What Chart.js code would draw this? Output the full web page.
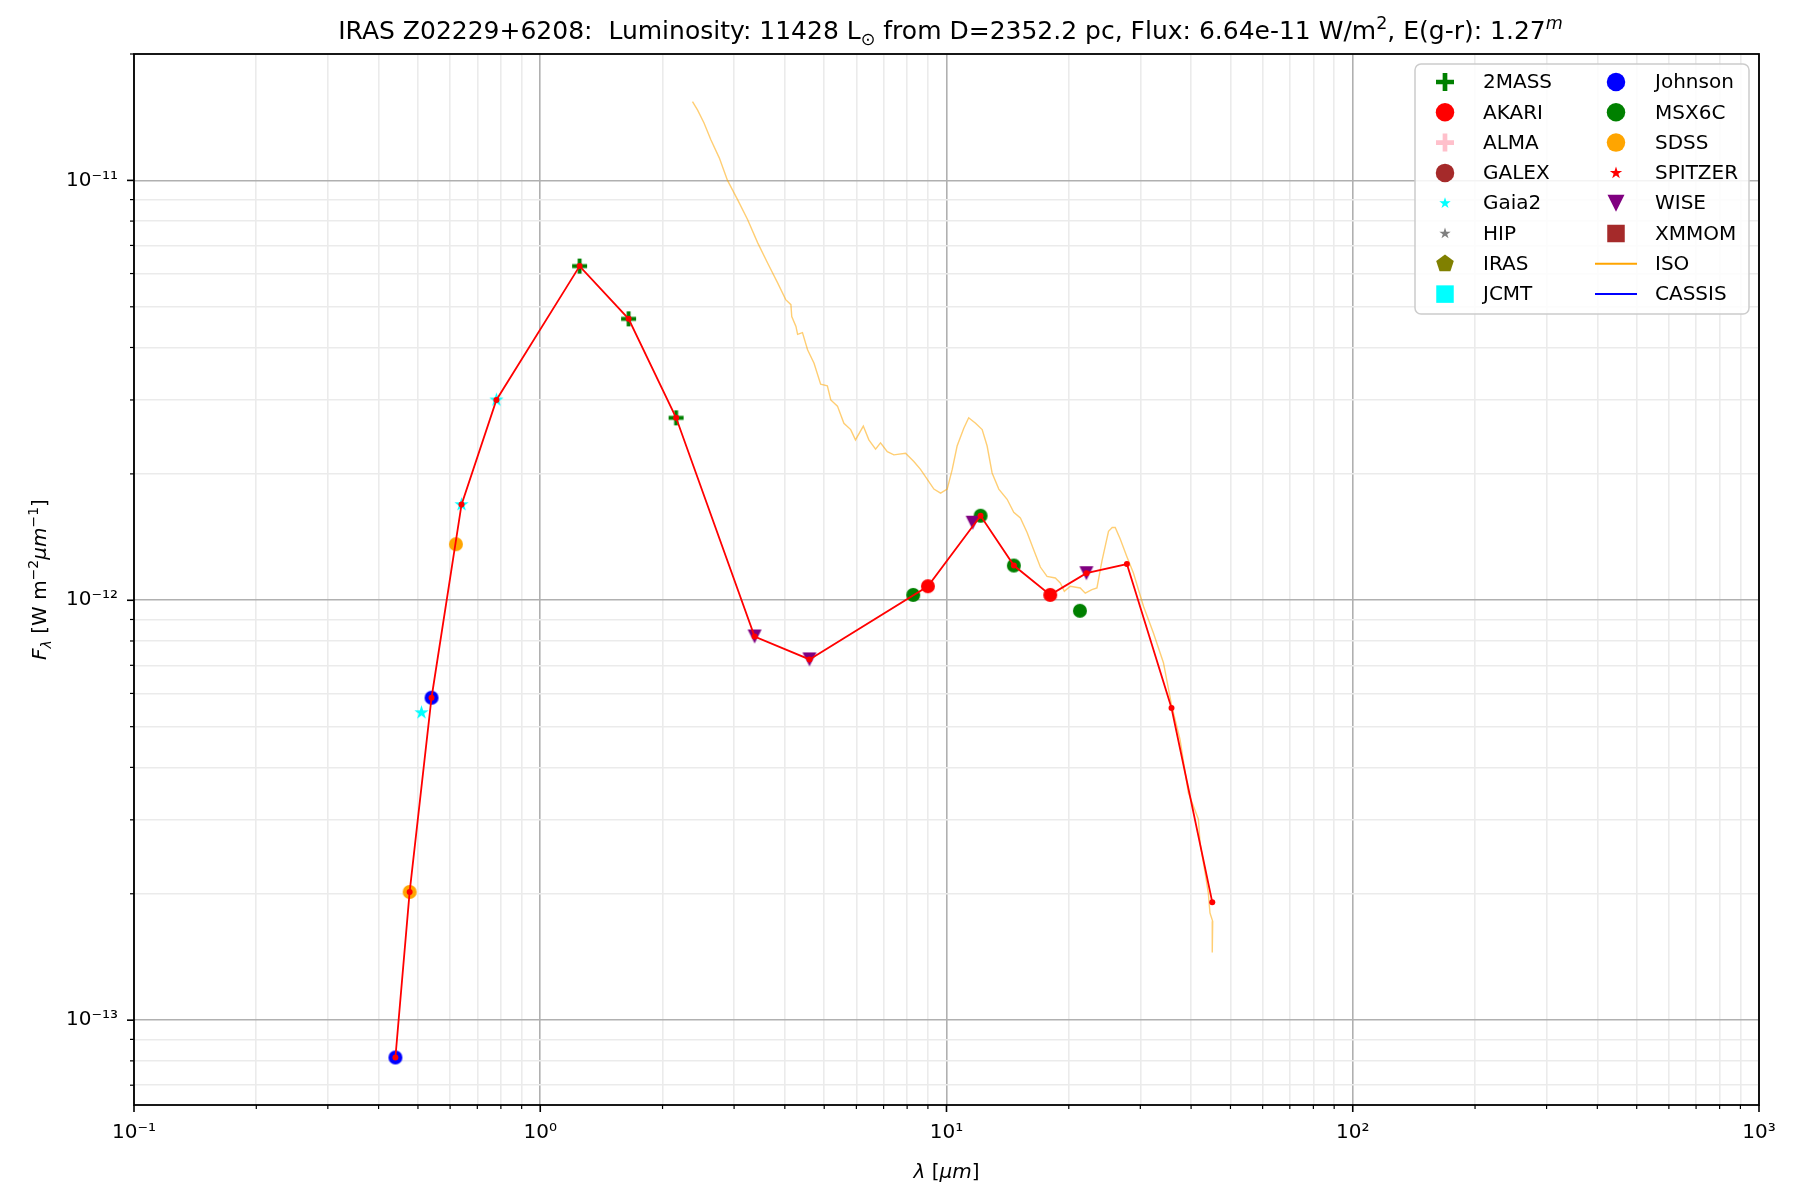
<!DOCTYPE html>
<html>
<head>
<meta charset="utf-8">
<title>IRAS Z02229+6208 SED</title>
<script src="https://cdn.jsdelivr.net/npm/chart.js@4.4.1/dist/chart.umd.min.js"></script>
<style>
html, body { margin:0; padding:0; background:#fff; }
#wrap { width:1800px; height:1200px; }
</style>
</head>
<body>
<div id="wrap"><canvas id="sedChart" width="1800" height="1200"></canvas></div>
<script>
// photometry: wavelength in micron, flux in W m^-2 micron^-1
const twoMassWave = [1.25, 1.65, 2.16]
const twoMassFlux = [6.25e-12, 4.68e-12, 2.72e-12]

const akariWave = [9.0, 18.0]
const akariFlux = [1.08e-12, 1.03e-12]

const gaiaWave = [0.51, 0.64, 0.78]
const gaiaFlux = [5.4e-13, 1.69e-12, 3.0e-12]

const johnsonWave = [0.44, 0.54]
const johnsonFlux = [8.15e-14, 5.86e-13]

const msxWave = [8.28, 12.13, 14.65, 21.3]
const msxFlux = [1.03e-12, 1.59e-12, 1.21e-12, 9.44e-13]

const sdssWave = [0.477, 0.62]
const sdssFlux = [2.02e-13, 1.36e-12]

const wiseWave = [3.37, 4.6, 11.6, 22.1]
const wiseFlux = [8.2e-13, 7.23e-13, 1.53e-12, 1.16e-12]

// red line through the adopted photometry
const sedWave = [0.44, 0.477, 0.54, 0.64, 0.78, 1.25, 1.65, 2.16, 3.37, 4.6, 9.0, 12.13, 14.65, 18.0, 22.1, 27.8, 35.8, 45.1]
const sedFlux = [8.15e-14, 2.02e-13, 5.86e-13, 1.69e-12, 3.0e-12, 6.25e-12, 4.68e-12, 2.72e-12, 8.2e-13, 7.23e-13, 1.08e-12, 1.59e-12, 1.21e-12, 1.03e-12, 1.16e-12, 1.22e-12, 5.54e-13, 1.91e-13]

// ISO spectrum, traced by eye
const isoWave = [2.37, 2.44, 2.53, 2.63, 2.76, 2.89, 3.06, 3.24, 3.43, 3.63, 3.84, 4.02, 4.14, 4.16, 4.26, 4.30, 4.42, 4.55, 4.72, 4.90,
  5.09, 5.19, 5.39, 5.59, 5.81, 5.97, 6.24, 6.44, 6.69, 6.88, 7.15, 7.42, 7.93, 8.31, 8.63, 8.97, 9.31, 9.67, 10.04, 10.33,
  10.62, 11.03, 11.34, 11.79, 12.24, 12.59, 12.95, 13.45, 14.10, 14.64, 15.20, 15.79, 16.39, 17.02, 17.68, 18.53, 19.06, 19.50, 20.17, 21.34,
  21.96, 22.80, 23.46, 24.13, 25.05, 25.58, 26.02, 26.77, 27.80, 28.86, 30.54, 32.31, 34.20, 35.85, 37.58, 39.38, 41.69, 42.09, 43.29, 44.10,
  44.52, 45.21, 45.10]
const isoFlux = [1.54e-11, 1.47e-11, 1.37e-11, 1.25e-11, 1.13e-11, 1.00e-11, 9.0e-12, 8.06e-12, 7.1e-12, 6.35e-12, 5.7e-12, 5.2e-12, 5.06e-12, 4.74e-12, 4.49e-12, 4.3e-12, 4.34e-12, 3.95e-12, 3.67e-12, 3.27e-12,
  3.24e-12, 3.0e-12, 2.9e-12, 2.64e-12, 2.55e-12, 2.41e-12, 2.6e-12, 2.41e-12, 2.29e-12, 2.37e-12, 2.26e-12, 2.22e-12, 2.24e-12, 2.14e-12, 2.05e-12, 1.94e-12, 1.84e-12, 1.80e-12, 1.84e-12, 2.05e-12,
  2.33e-12, 2.57e-12, 2.72e-12, 2.64e-12, 2.55e-12, 2.33e-12, 2.01e-12, 1.84e-12, 1.74e-12, 1.62e-12, 1.57e-12, 1.45e-12, 1.32e-12, 1.20e-12, 1.14e-12, 1.13e-12, 1.10e-12, 1.05e-12, 1.08e-12, 1.07e-12,
  1.04e-12, 1.06e-12, 1.07e-12, 1.24e-12, 1.46e-12, 1.49e-12, 1.49e-12, 1.40e-12, 1.27e-12, 1.16e-12, 9.68e-13, 8.36e-13, 7.10e-13, 5.6e-13, 4.66e-13, 3.48e-13, 3.01e-13, 2.64e-13, 2.25e-13, 2.01e-13,
  1.80e-13, 1.72e-13, 1.45e-13]

const legendLeft = ['2MASS', 'AKARI', 'ALMA', 'GALEX', 'Gaia2', 'HIP', 'IRAS', 'JCMT']
const legendRight = ['Johnson', 'MSX6C', 'SDSS', 'SPITZER', 'WISE', 'XMMOM', 'ISO', 'CASSIS']

const xRange = [0.1, 1000]
const yRange = [6.28e-14, 2.0e-11]

const look = {
  '2MASS': { shape:'plus', color:'#008000', size:15, key:18 },
  'AKARI': { shape:'circle', color:'#ff0000', size:14, key:18.5 },
  'ALMA': { shape:'plus', color:'#ffc0cb', size:15, key:18 },
  'GALEX': { shape:'circle', color:'#a52a2a', size:14, key:18.5 },
  'Gaia2': { shape:'star', color:'#00ffff', size:15, key:12 },
  'HIP': { shape:'star', color:'#808080', size:15, key:12 },
  'IRAS': { shape:'pentagon', color:'#808000', size:14, key:18.5 },
  'JCMT': { shape:'square', color:'#00ffff', size:13, key:17.5 },
  'Johnson': { shape:'circle', color:'#0000ff', size:14, key:18.5 },
  'MSX6C': { shape:'circle', color:'#008000', size:14, key:18.5 },
  'SDSS': { shape:'circle', color:'#ffa500', size:14, key:18.5 },
  'SPITZER': { shape:'star', color:'#ff0000', size:15, key:13 },
  'WISE': { shape:'tri', color:'#800080', size:14, key:17 },
  'XMMOM': { shape:'square', color:'#a52a2a', size:13, key:17.5 },
  'ISO': { shape:'line', color:'#ffa500' },
  'CASSIS': { shape:'line', color:'#0000ff' }
}

const FONT = 'DejaVu Sans'
const FS = 20
const TITLE_FS = 25

function toPoints(wave, flux){
  return wave.map((w, i) => ({ x:w, y:flux[i] }))
}

function drawShape(g, shape, x, y, size){
  const r = size / 2
  g.beginPath()
  if (shape === 'circle'){
    g.arc(x, y, r, 0, Math.PI * 2)
    g.fill()
  } else if (shape === 'square'){
    g.fillRect(x - r, y - r, size, size)
  } else if (shape === 'plus'){
    g.lineWidth = size * 0.26
    g.moveTo(x - r, y)
    g.lineTo(x + r, y)
    g.moveTo(x, y - r)
    g.lineTo(x, y + r)
    g.stroke()
  } else if (shape === 'star'){
    for (let k = 0; k < 10; k++){
      const rr = k % 2 === 0 ? r : r * 0.382
      const a = -Math.PI / 2 + k * Math.PI / 5
      g.lineTo(x + rr * Math.cos(a), y + rr * Math.sin(a))
    }
    g.closePath()
    g.fill()
  } else if (shape === 'pentagon'){
    for (let k = 0; k < 5; k++){
      const a = -Math.PI / 2 + k * 2 * Math.PI / 5
      g.lineTo(x + r * Math.cos(a), y + r * Math.sin(a))
    }
    g.closePath()
    g.fill()
  } else if (shape === 'tri'){
    g.moveTo(x - r, y - r)
    g.lineTo(x + r, y - r)
    g.lineTo(x, y + r)
    g.closePath()
    g.fill()
  }
}

function markerImage(name){
  const s = look[name]
  const c = document.createElement('canvas')
  c.width = c.height = Math.ceil(s.size + 6)
  const g = c.getContext('2d')
  g.fillStyle = s.color
  g.strokeStyle = s.color
  drawShape(g, s.shape, c.width / 2, c.height / 2, s.size)
  return c
}

function photSet(name, wave, flux, order){
  return {
    label: name,
    data: toPoints(wave, flux),
    pointStyle: markerImage(name),
    pointRadius: look[name].size / 2,
    pointHoverRadius: look[name].size / 2,
    showLine: false,
    order: order
  }
}

function isMajor(v){
  const e = Math.round(Math.log10(v))
  return Math.abs(v / Math.pow(10, e) - 1) < 1e-6
}

const supDigits = { '-':'⁻', '0':'⁰', '1':'¹', '2':'²', '3':'³', '4':'⁴', '5':'⁵', '6':'⁶', '7':'⁷', '8':'⁸', '9':'⁹' }

function powerLabel(v){
  if (!isMajor(v)) return ''
  const e = String(Math.round(Math.log10(v)))
  return '10' + e.split('').map(ch => supDigits[ch]).join('')
}

// ticks at 1..9 x 10^n inside the axis range
function fillDecades(scale){
  const lo = scale.min, hi = scale.max
  const out = []
  for (let e = Math.floor(Math.log10(lo)); e <= Math.ceil(Math.log10(hi)); e++){
    for (let m = 1; m < 10; m++){
      const v = m * Math.pow(10, e)
      if (v >= lo * 0.999999 && v <= hi * 1.000001) out.push({ value:v })
    }
  }
  scale.ticks = out
}

function gridColor(ctx){
  return ctx.tick && isMajor(ctx.tick.value) ? '#b0b0b0' : '#ebebeb'
}

// text made of plain, italic, sub and sup parts
function drawRich(g, parts, cx, cy, size, vertical){
  const fontFor = p => (p[1].indexOf('i') >= 0 ? 'italic ' : '') +
    ((p[1].indexOf('sub') === 0 || p[1].indexOf('sup') === 0) ? size * 0.7 : size) + 'px "' + FONT + '"'
  let total = 0
  parts.forEach(p => { g.font = fontFor(p); total += g.measureText(p[0]).width })
  g.save()
  g.translate(cx, cy)
  if (vertical) g.rotate(-Math.PI / 2)
  g.fillStyle = '#000'
  g.textBaseline = 'alphabetic'
  g.textAlign = 'left'
  let x = -total / 2
  const base = size * 0.36
  parts.forEach(p => {
    g.font = fontFor(p)
    let dy = 0
    if (p[1].indexOf('sub') === 0) dy = size * 0.22
    if (p[1].indexOf('sup') === 0) dy = -size * 0.42
    g.fillText(p[0], x, base + dy)
    x += g.measureText(p[0]).width
  })
  g.restore()
}

const titleParts = [
  ['IRAS Z02229+6208:  Luminosity: 11428 L', 'n'], ['⊙', 'sub'],
  [' from D=2352.2 pc, Flux: 6.64e-11 W/m', 'n'], ['2', 'sup'],
  [', E(g-r): 1.27', 'n'], ['m', 'supi']
]
const xTitleParts = [['λ', 'i'], [' [', 'n'], ['μm', 'i'], [']', 'n']]
const yTitleParts = [['F', 'i'], ['λ', 'subi'], [' [W m', 'n'], ['−2', 'sup'], ['μm', 'i'], ['−1', 'sup'], [']', 'n']]

function drawLegend(g){
  const box = { x:1415, y:64, w:334, h:250 }
  g.save()
  g.fillStyle = 'rgba(255,255,255,0.85)'
  g.strokeStyle = '#cccccc'
  g.lineWidth = 1.5
  g.beginPath()
  g.roundRect(box.x, box.y, box.w, box.h, 6)
  g.fill()
  g.stroke()
  g.font = FS + 'px "' + FONT + '"'
  g.textBaseline = 'middle'
  g.textAlign = 'left'
  const cols = [{ names:legendLeft, mx:1445, tx:1483 }, { names:legendRight, mx:1616, tx:1655 }]
  cols.forEach(col => {
    col.names.forEach((name, i) => {
      const y = 82 + i * 30.3
      const s = look[name]
      g.fillStyle = s.color
      g.strokeStyle = s.color
      if (s.shape === 'line'){
        g.lineWidth = 2
        g.beginPath()
        g.moveTo(col.mx - 21, y)
        g.lineTo(col.mx + 21, y)
        g.stroke()
      } else {
        drawShape(g, s.shape, col.mx, y, s.key)
      }
      g.fillStyle = '#000'
      g.fillText(name, col.tx, y + 1)
    })
  })
  g.restore()
}

const decor = {
  id: 'decor',
  afterDraw(chart){
    const g = chart.ctx
    const a = chart.chartArea
    const sx = chart.scales.x
    const sy = chart.scales.y
    g.save()
    g.strokeStyle = '#000'
    sx.ticks.forEach(t => {
      const p = sx.getPixelForValue(t.value)
      const big = isMajor(t.value)
      g.lineWidth = big ? 1.6 : 1.2
      g.beginPath()
      g.moveTo(p, a.bottom)
      g.lineTo(p, a.bottom + (big ? 7 : 4))
      g.stroke()
    })
    sy.ticks.forEach(t => {
      const p = sy.getPixelForValue(t.value)
      const big = isMajor(t.value)
      g.lineWidth = big ? 1.6 : 1.2
      g.beginPath()
      g.moveTo(a.left, p)
      g.lineTo(a.left - (big ? 7 : 4), p)
      g.stroke()
    })
    g.lineWidth = 1.8
    g.strokeRect(a.left, a.top, a.right - a.left, a.bottom - a.top)
    g.restore()

    drawLegend(g)
    drawRich(g, titleParts, (a.left + a.right) / 2 + 4, 30, TITLE_FS, false)
    drawRich(g, xTitleParts, (a.left + a.right) / 2, 1171, FS, false)
    drawRich(g, yTitleParts, 39, (a.top + a.bottom) / 2, FS, true)
  }
}

const datasets = [
  {
    label: 'sed',
    data: toPoints(sedWave, sedFlux),
    showLine: true,
    borderColor: '#ff0000',
    borderWidth: 1.8,
    pointStyle: 'circle',
    pointRadius: 3,
    pointHoverRadius: 3,
    pointBackgroundColor: '#ff0000',
    pointBorderWidth: 0,
    order: 0
  },
  {
    label: 'ISO',
    data: toPoints(isoWave, isoFlux),
    showLine: true,
    borderColor: 'rgba(255,165,0,0.55)',
    borderWidth: 1.4,
    pointRadius: 0,
    pointHoverRadius: 0,
    order: 1
  },
  photSet('WISE', wiseWave, wiseFlux, 2),
  photSet('SDSS', sdssWave, sdssFlux, 3),
  photSet('MSX6C', msxWave, msxFlux, 4),
  photSet('Johnson', johnsonWave, johnsonFlux, 5),
  photSet('Gaia2', gaiaWave, gaiaFlux, 6),
  photSet('AKARI', akariWave, akariFlux, 7),
  photSet('2MASS', twoMassWave, twoMassFlux, 8)
]

const axisTicks = padding => ({
  callback: powerLabel,
  autoSkip: false,
  maxRotation: 0,
  minRotation: 0,
  padding: padding,
  color: '#000',
  font: { family: FONT, size: FS }
})

new Chart(
  document.getElementById('sedChart'),
  {
    type: 'scatter',
    data: { datasets: datasets },
    options: {
      responsive: false,
      devicePixelRatio: 1,
      animation: false,
      layout: { padding: { left:0, right:41, top:54, bottom:0 } },
      plugins: {
        legend: { display:false },
        title: { display:false },
        tooltip: { enabled:false }
      },
      scales: {
        x: {
          type: 'logarithmic',
          min: xRange[0],
          max: xRange[1],
          afterBuildTicks: fillDecades,
          afterFit: s => { s.height = 95 },
          grid: { color: gridColor, lineWidth: 1.6, drawTicks: false },
          border: { display: false },
          ticks: axisTicks(16)
        },
        y: {
          type: 'logarithmic',
          min: yRange[0],
          max: yRange[1],
          afterBuildTicks: fillDecades,
          afterFit: s => { s.width = 134 },
          grid: { color: gridColor, lineWidth: 1.6, drawTicks: false },
          border: { display: false },
          ticks: axisTicks(16)
        }
      }
    },
    plugins: [decor]
  }
)
</script>
</body>
</html>
